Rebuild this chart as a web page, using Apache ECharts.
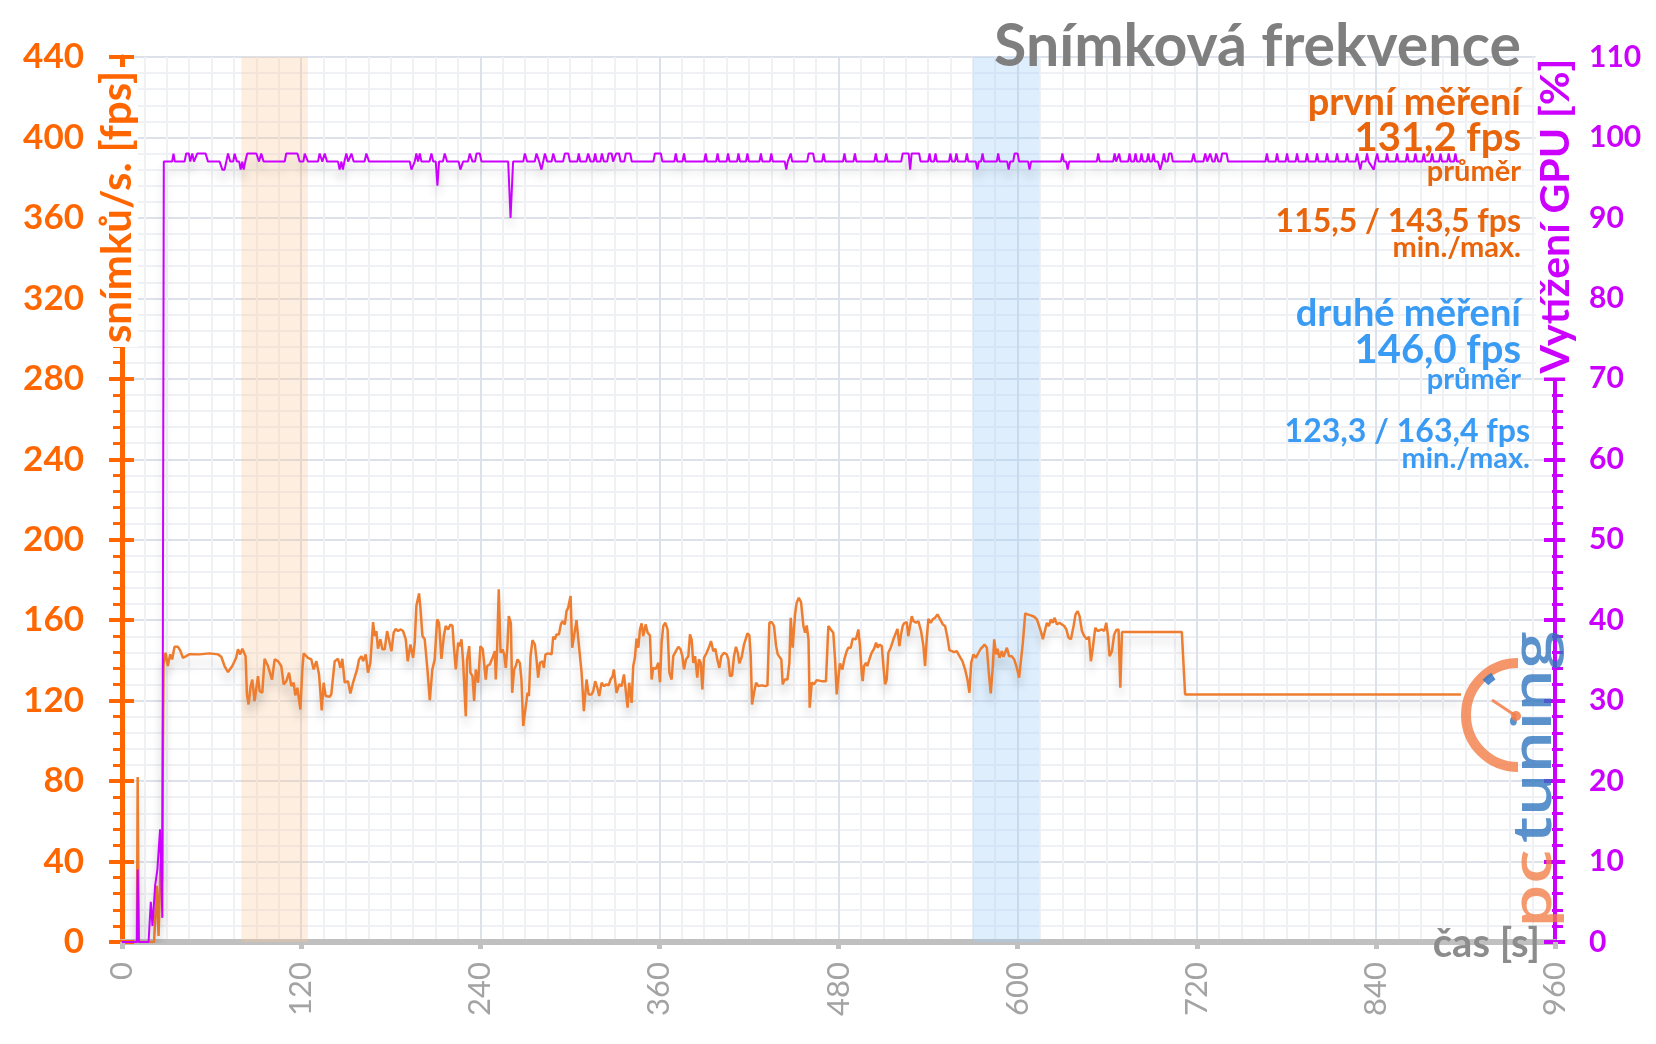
<!DOCTYPE html>
<html>
<head>
<meta charset="utf-8">
<title>Snímková frekvence</title>
<script src="https://cdn.jsdelivr.net/npm/echarts@6/dist/echarts.min.js"></script>
<style>
  html, body { margin: 0; padding: 0; background: #fff; }
  #chart { width: 1656px; height: 1044px; }
</style>
</head>
<body>
<div id="chart"></div>
<script>
// osa x: čas [s]
const timeTicks = [0, 120, 240, 360, 480, 600, 720, 840, 960];

// snímky za sekundu [čas s, fps]
const fpsSamples = [
  [0,0],[10,0],[10.5,82],[11.2,0],[21.5,0],[23.3,28],[24.5,3],[25.8,39],[26.8,30],[27.8,138],
  [29.2,143.8],[30.7,137.2],[32.3,143],[33.6,140.5],[35.2,146.8],[37.4,146.8],[39,145],[40.8,141.3],[43,142.1],[45.3,143.1],
  [52,143],[58.7,143.5],[64.3,143],[66.5,141.8],[68.7,137.2],[71,134.2],[73.9,137.2],[76.5,141.3],[77.7,145.5],[79.2,143],
  [80.6,145.8],[82.8,142.1],[83.7,123.1],[84.8,118.1],[86.2,127.2],[87.3,130.5],[88.8,119.8],[91.1,132.2],[92.2,124.7],[94,123.9],
  [95.5,140.8],[97.8,137.2],[100.5,130.5],[102.3,140.5],[104.5,139.6],[106.7,137.2],[108.3,128.1],[110.1,129.7],[111.9,133.9],[113.4,127.2],
  [115,128.9],[116.1,122.6],[117.5,126.4],[119.5,115.6],[120.8,135.5],[121.7,143.5],[124.6,141.3],[126.8,140.5],[128.4,135.5],[130.2,139.6],
  [132,133],[133.8,115.1],[135.1,128.9],[136.4,122.3],[139.1,121.9],[140.2,123.1],[142.5,139.6],[144.7,140.8],[146.3,136.3],[147.6,140.8],
  [149.2,128.9],[151.4,129.7],[153,123.6],[154.8,128.9],[157.5,135.5],[158.8,140.5],[160.4,142.1],[161.5,139.6],[163.3,143],[164.8,133.9],
  [166.4,138.8],[168.2,159],[169.3,152.1],[170.4,154.6],[171.5,145.8],[173.1,150.5],[174.4,145.5],[176,145.5],[177.6,154.6],[178.9,155.4],
  [180.5,144.6],[182,153.8],[183.4,155.7],[184.9,154.6],[186.5,155.4],[188.3,154.6],[190.1,150.5],[191.4,139.6],[193.2,147.9],[195,141.3],
  [196.1,148.8],[197.2,167],[199,173.3],[199.9,166.2],[201.3,152.1],[202.8,150.5],[204.6,135.5],[206.2,120.3],[207.9,135.5],[209.5,140.5],
  [211.1,160.4],[212.4,158.7],[214,140.8],[215.6,152.1],[216.9,157.1],[218.5,155.4],[220,157.9],[221.4,157.1],[222.3,147.1],[223.6,135.5],
  [225.2,148.8],[226.3,147.1],[227.4,150.5],[228.5,139.6],[230.3,112.3],[231.2,140.5],[232.6,147.1],[233.4,133.9],[234.8,132.2],[235.9,119.8],
  [237,135.5],[238.6,128.9],[240.1,147.1],[241.7,145.5],[243.1,134.7],[243.7,130.5],[244.6,137.2],[246.4,138],[248.6,142.1],[249.8,144.6],
  [250.4,130.5],[251.3,145.5],[252.4,175.3],[253.6,143.8],[254.9,145.5],[256,143],[257.1,136.3],[258.2,147.1],[259.1,162],[260.5,158.7],
  [261.4,123.9],[262.7,135.5],[263.8,137.2],[265,140.5],[266.5,138.8],[267.6,130.5],[268.8,107.4],[270.5,117.3],[271.7,123.9],[272.6,122.3],
  [273.7,142.1],[275,150.1],[276.6,147.9],[277.7,140.5],[278.8,131.4],[280,138.8],[281.7,139.6],[282.6,136.3],[283.7,143],[285.5,143.5],
  [287.8,143],[288.9,151.8],[290,150.5],[291.1,152.9],[292.7,152.9],[294,157.9],[295.1,159.5],[296.7,157.9],[297.8,164.5],[298.9,166.2],
  [300.5,172],[301.6,146.3],[302.9,147.1],[304.5,160],[305.9,148.8],[307.9,133.9],[309.4,114.8],[311.2,130.5],[312.6,123.1],[314.6,123.1],
  [315.7,124.7],[317,129.7],[318.4,126.4],[319.7,122.3],[321.3,128.9],[322.8,127.2],[324.6,128.1],[326,127.6],[327.3,130.5],[328.7,132.2],
  [329.5,135.5],[331.3,123.9],[333.1,128.1],[334.7,127.2],[336.3,133],[337.6,132.2],[338.7,116.5],[339.8,128.9],[341.4,118.9],[342.5,137.2],
  [343.6,141.3],[344.7,150.8],[345.9,146.3],[347,155.4],[348.1,158.4],[349.2,152.1],[350.8,157.9],[352.1,153.8],[353.7,152.4],[354.8,130.5],
  [355.9,136.3],[357.7,135.8],[359.3,138.8],[360.4,129.2],[361.5,148.8],[362.6,157.1],[364,158.7],[365.5,155.4],[366.7,133.9],[368.2,130.5],
  [369.3,142.1],[371.1,144.6],[372.7,146.8],[374.2,145.5],[375.4,142.1],[376.5,135.5],[377.8,140.5],[379.4,142.1],[380.5,152.9],[381.6,150.5],
  [382.7,138.8],[383.9,142.1],[385.4,131.4],[386.5,140.5],[387.7,138.8],[388.8,125.6],[389.9,141.3],[391.7,143.8],[393.5,147.1],[394.6,149.6],
  [396.1,144.6],[397.5,145.8],[398.8,140.5],[400.2,136.3],[401.5,142.1],[403.3,143.8],[405.1,143],[406.2,140.5],[407.3,132.2],[408.7,132.5],
  [410,142.1],[411.3,146.8],[412.5,143.8],[413.6,138.5],[415.2,141.8],[416.7,147.9],[417.8,148.8],[419,153.4],[420.3,152.4],[421.2,142.1],
  [422.1,118.1],[423.4,123.9],[424.8,128.9],[426.3,127.2],[428.6,127.6],[430.8,127.2],[432.4,127.6],[433.7,158.7],[435.3,159.1],[436.8,157.1],
  [438.2,147.1],[439.3,143],[440.4,143.8],[441.7,140.5],[442.6,128.1],[444,130.5],[445.8,130.5],[447.1,138.8],[448,161.2],[449.3,146.3],
  [450.9,162.9],[452,168.7],[453.4,171.1],[454.9,169],[456.5,157.1],[457.6,153.8],[458.7,157.4],[459.9,150.5],[460.7,116.5],[462.1,129],
  [463.6,128.1],[465.4,130.2],[468.7,129.7],[471.6,129.7],[473.2,157.1],[474.8,155.4],[476.5,153.8],[477.7,140.5],[478.8,123.1],[479.9,131.4],
  [481,138.5],[482.6,135.5],[483.9,140.5],[485.5,144.6],[486.6,146.3],[488.2,146.3],[489.5,150.8],[490.6,151.3],[491.7,150.5],[493.3,155.4],
  [494.4,147.1],[495.5,133.9],[496.2,129.7],[497.1,137.2],[498.4,138.8],[499.3,137.2],[500.7,140.5],[502.2,143.8],[503.8,145.8],[505.2,148.8],
  [506.3,146.3],[507.4,147.9],[509,147.1],[510.1,137.2],[511.2,128.1],[512.3,130.5],[513.4,143.8],[515,146.3],[516.8,150.5],[517.9,151.3],
  [519.5,155.7],[520.8,147.1],[521.9,152.9],[523,157.1],[523.9,158.4],[525.7,159.1],[526.8,152.1],[527.9,151.3],[529.1,162],[530.2,159.5],
  [532,158.7],[533.5,159.5],[535.3,154.6],[536.9,147.1],[538,137.2],[539.1,150.5],[540.2,160.7],[541.8,158.7],[543.1,160.4],[544.7,161.2],
  [546.3,162.9],[548.1,160.4],[549.9,157.9],[551.4,157.1],[553,151.3],[554.3,145.1],[555.9,144.6],[557.5,144.1],[559.2,144.6],[560.4,143],
  [561.5,143.8],[563,139.6],[564.8,135.5],[566.4,130.5],[567.7,123.9],[568.9,138.8],[570.4,143],[572,141.3],[573.8,143.8],[575.3,145.8],
  [576.7,146.8],[577.8,147.9],[579.4,146.3],[580.5,135.5],[582,123.6],[583.4,137.2],[584.3,150.5],[585.6,143],[586.5,145.8],[587.9,141.3],
  [589.4,144.6],[590.5,141.8],[591.6,143.8],[592.8,146.3],[594.3,142.1],[596.1,142.1],[597.7,140.5],[599.5,136.3],[601,131.4],[602.1,132.2],
  [603.5,148.8],[605.1,163.4],[606.6,162.9],[608.9,162.4],[611.1,161.7],[612.9,160.4],[614.4,157.1],[615.8,153.8],[616.9,150.5],[618.5,155.4],
  [619.6,158.7],[620.9,157.1],[622.3,160.4],[623.6,158.7],[624.7,161.2],[626.3,157.9],[628.1,158.7],[629.6,157.9],[631.2,157.1],[632.6,155.4],
  [634.1,151.3],[635.7,150.5],[637.5,157.1],[638.8,162.9],[640.2,164.5],[641.5,162],[643.1,154.6],[644.6,152.1],[646.4,150.5],[647.8,151.8],
  [649.1,139.6],[650.4,146.3],[652,156.2],[653.6,154.6],[654.9,153.8],[656.5,155.4],[658,154.6],[659.4,158.7],[660.5,152.1],[661.6,142.1],
  [663.2,144.6],[664.7,152.9],[666.1,155.1],[667.6,155.4],[668.8,126.4],[669.9,154.1],[710,154.1],[712.2,123.1],
  [722.5,123.1],[723.5,122.7],[724.5,123.1],[733.7,123.1],[734.7,122.7],[735.7,123.1],[777.3,123.1],[778.3,122.7],[779.3,123.1],
  [783,123.1],[783.9,122.7],[784.8,123.1],[794,123.1],[795,122.7],[796,123.1],[797.5,123.1],[798.4,122.7],[799.3,123.1],
  [805.3,123.1],[806.2,122.7],[807.1,123.1],[825.4,123.1],[826.3,122.7],[827.2,123.1],[828.8,123.1],[829.7,122.7],[830.6,123.1],
  [836.6,123.1],[837.5,122.7],[838.4,123.1],[848.9,123.1],[849.8,122.7],[850.7,123.1],[853.4,123.1],[854.3,122.7],[855.2,123.1],
  [857.8,123.1],[858.7,122.7],[859.6,123.1],[863.4,123.1],[864.3,122.7],[865.2,123.1],[867.9,123.1],[868.8,122.7],[869.7,123.1],
  [872.4,123.1],[873.3,122.7],[874.2,123.1],[885.8,123.1],[886.7,122.7],[887.6,123.1],[897,123.1]
];

// vytížení GPU [čas s, %]
const gpuSamples = [
  [0,0],[10,0],[10.5,9],[11.3,0],[17.8,0],[19.3,5],[20.4,2],[22.2,7],[23.7,9],[25.5,14],[27,3],[28,97],
  [33.6,97],[34.5,98],[35.4,97],[41.9,97],[43,98],[44.8,98],[45.7,97],[47.1,98],[48.2,97],
  [49.3,97],[50.4,98],[56,98],[57.6,97],[65.4,97],[67.2,96],[68.7,96],[69.9,97],[71,98],[72.5,97],
  [74.5,97],[75.4,98],[77,97],[78.5,97],[79.5,96],[80.6,97],[81.5,96],[82.6,97],[83.9,98],[90,98],[91.8,97],
  [93.3,98],[94.9,97],[109,97],[110,98],[117.5,98],[119,97],[121.5,97],[122.4,98],[124.6,97],
  [131.3,97],[132.4,98],[134.2,97],[135.8,98],[137.4,97],
  [144.7,97],[145.8,96],[147,97],[148,96],[149,97],[150.3,98],[151.5,97],[153.7,98],[155.2,97],
  [162.5,97],[163.7,98],[165.5,97],[192.8,97],[193.9,96],[195,96],[196.1,97],
  [197.2,98],[198.3,97],[199.5,98],[200.6,97],[206,97],[207.3,98],[208.5,97],
  [210.2,97],[211.3,94],[212.4,97],[215,97],[216.2,98],[217.8,97],
  [225.5,97],[226.7,96],[227.5,96],[228.5,97],[231.8,97],[233,98],[234.8,97],
  [236.5,97],[237.5,98],[239.7,98],[240.8,97],[258.7,97],[260.3,90],[262,97],
  [268.8,97],[269.9,98],[271.4,97],[276.5,97],[277.7,98],[279.5,97],[281,96],[282.2,97],[283.3,98],[284.9,97],
  [287.8,97],[288.9,98],[290.4,97],[295.5,97],[296.7,98],[299,98],[300.1,97],
  [305,97],[306,98],[307,97],[311,97],[312.3,98],[313.9,97],
  [316,97],[317,98],[318,97],[320.5,97],[321.5,98],[322.8,97],
  [325,97],[326,98],[328,98],[329,97],[331,98],[333,98],[334,97],[336.5,97],[337.5,98],[340.5,98],[341.5,97],
  [356,97],[357,98],[361,98],[362,97],[370,97],[371,98],[372,97],[375.5,97],[376.5,98],[377.5,97],
  [390,97],[391,98],[392,97],[398,97],[399,98],[400,97],[405,97],[406,98],[407,97],
  [412,97],[413,98],[414,97],[418,97],[419,98],[420,97],
  [427,97],[428,98],[429,97],[434,97],[435,98],[436,97],
  [444,97],[445,96],[446,97],[448,98],[449,97],[459,97],[460,98],[463,98],[464,97],
  [469,97],[470,98],[471,97],[483,97],[484,98],[485,97],
  [490,97],[491,98],[492,97],[504,97],[505,98],[506,97],[511,97],[512,98],[513,97],
  [522,97],[523,98],[527,98],[528,96],[529,98],[534,98],[535,97],
  [540,97],[541,98],[542,97],[544,97],[545,98],[546,97],
  [554,97],[555,98],[556,97],[558,97],[559,98],[560,97],
  [565,97],[566,98],[567,97],[572,97],[573,96],[574,97],[575.5,97],[576.5,98],[577.5,97],
  [586,97],[587,98],[588,97],[593,97],[594,96],[595,97],[597,97],[598,98],[600,98],[601,97],
  [607,97],[608,96],[609,97],[629,97],[630,98],[631,97],[632.5,97],[633.5,96],[634.5,97],
  [653,97],[654,98],[655,97],[664,97],[665,98],[666,97],[667,97],[668,98],[669,97],[674,97],[675,98],[676,97],
  [678,97],[679,98],[680,97],[682,97],[683,98],[684,97],[686.5,97],[687.5,98],[688.5,97],
  [690,97],[691,98],[692,97],[694,97],[695.5,96],[697,97],[698,98],[699,97],[700.5,97],[701.5,98],[703,98],[704,97],
  [716.7,97],[717.9,98],[719,97],[724.5,97],[725.7,98],[727,97],[728,97],[729,98],[730.5,97],
  [732,97],[733,98],[734.5,97],[736,97],[737,98],[740,98],[741,97],
  [766,97],[767,98],[768,97],[772.8,97],[773.8,98],[774.8,97],[779.5,97],[780.5,98],[781.5,97],
  [786.2,97],[787.2,98],[788.2,97],[792.9,97],[793.9,98],[794.9,97],[799.6,97],[800.6,98],[801.6,97],
  [806.3,97],[807.3,98],[808.3,97],[813,97],[814,98],[815,97],[819.7,97],[820.7,98],[821.7,97],
  [826.4,97],[827.4,98],[828.4,97],[829.6,96],[830.6,97],[833.1,97],[834.1,98],[835.1,97],
  [838.6,96],[839.6,97],[840.9,98],[841.9,97],[846.5,97],[847.5,98],[848.5,97],
  [853.2,97],[854.2,98],[855.2,97],[860,97],[861,98],[862,97],[865.5,97],[866.5,98],[867.5,97],
  [871.1,97],[872.1,98],[873.1,97],[876.7,97],[877.7,98],[878.7,97],[882.3,97],[883.3,98],[884.3,97],
  [887.8,97],[888.8,98],[889.8,97],[892.3,97],[893.3,98],[894.3,97],[897,97]
];

// zvýrazněné úseky měření [od, do] v sekundách
const firstRun = [80, 124.5];
const secondRun = [570, 614.5];

// souhrnné hodnoty
const firstStats = { avg: "131,2 fps", minMax: "115,5 / 143,5 fps" };
const secondStats = { avg: "146,0 fps", minMax: "123,3 / 163,4 fps" };

const ORANGE = "#ff6600";
const MAGENTA = "#cc00ff";
const TXT_ORANGE = "#e8650c";
const TXT_BLUE = "#3a9bf4";
const FONT = "Lato";

let chart = echarts.init(document.getElementById("chart"));

const lineShadow = {
  shadowColor: "rgba(0,0,0,0.18)",
  shadowBlur: 10,
  shadowOffsetY: 9,
};

function note(text, right, y, size, color) {
  return {
    type: "text",
    z: 60,
    x: right,
    y: y,
    style: {
      text: text,
      align: "right",
      verticalAlign: "middle",
      fill: color,
      font: "bold " + size + "px " + FONT,
    },
  };
}

let option = {
  animation: false,
  backgroundColor: "#fff",
  grid: {
    left: 122,
    right: 101,
    top: 57,
    bottom: 102,
    outerBoundsMode: "none",
  },
  xAxis: {
    type: "value",
    min: timeTicks[0],
    max: timeTicks[timeTicks.length - 1],
    interval: 120,
    axisLine: { show: true, lineStyle: { color: "#c0c0c0", width: 6 } },
    axisTick: { show: true, length: 7, lineStyle: { color: "#c0c0c0", width: 5 } },
    axisLabel: {
      rotate: 90,
      color: "#a3a3a3",
      fontFamily: FONT,
      fontSize: 31,
      margin: 20,
      showMinLabel: true,
      showMaxLabel: true,
    },
    splitLine: { show: true, lineStyle: { color: "#dde1e9", width: 2 } },
    minorTick: { show: false, splitNumber: 8 },
    minorSplitLine: { show: true, lineStyle: { color: "#eff1f5", width: 2 } },
  },
  yAxis: [
    {
      type: "value",
      position: "left",
      min: 0,
      max: 440,
      interval: 40,
      axisLine: { show: true, lineStyle: { color: ORANGE, width: 5 } },
      axisTick: { show: true, length: 13, lineStyle: { color: ORANGE, width: 4 } },
      minorTick: { show: true, splitNumber: 5, length: 9, lineStyle: { color: ORANGE, width: 3 } },
      axisLabel: {
        color: ORANGE,
        fontFamily: FONT,
        fontWeight: "bold",
        fontSize: 35,
        margin: 38,
      },
      splitLine: { show: true, lineStyle: { color: "#dde1e9", width: 2 } },
      minorSplitLine: { show: true, lineStyle: { color: "#eff1f5", width: 2 } },
    },
    {
      type: "value",
      position: "right",
      min: 0,
      max: 110,
      interval: 10,
      axisLine: { show: true, lineStyle: { color: MAGENTA, width: 4 } },
      axisTick: { show: true, length: 10, lineStyle: { color: MAGENTA, width: 4 } },
      minorTick: { show: true, splitNumber: 5, length: 8, lineStyle: { color: MAGENTA, width: 3 } },
      axisLabel: {
        color: MAGENTA,
        fontFamily: FONT,
        fontWeight: "bold",
        fontSize: 30,
        margin: 34,
      },
      splitLine: { show: false },
    },
    // vnitřní část značek (značky přes osu)
    {
      type: "value",
      position: "left",
      min: 0,
      max: 440,
      interval: 40,
      axisLine: { show: false },
      axisTick: { show: true, inside: true, length: 12, lineStyle: { color: ORANGE, width: 4 } },
      axisLabel: { show: false },
      splitLine: { show: false },
    },
    {
      type: "value",
      position: "right",
      min: 0,
      max: 110,
      interval: 10,
      axisLine: { show: false },
      axisTick: { show: true, inside: true, length: 11, lineStyle: { color: MAGENTA, width: 4 } },
      minorTick: { show: true, splitNumber: 5, length: 3, lineStyle: { color: MAGENTA, width: 3 } },
      axisLabel: { show: false },
      splitLine: { show: false },
    },
  ],
  series: [
    {
      name: "fps",
      type: "line",
      yAxisIndex: 0,
      data: fpsSamples,
      symbol: "none",
      lineStyle: Object.assign({ color: "#ee7d2f", width: 2.5 }, lineShadow),
      markArea: {
        silent: true,
        data: [
          [
            { xAxis: firstRun[0], itemStyle: { color: "rgba(248,200,150,0.3)" } },
            { xAxis: firstRun[1] },
          ],
          [
            { xAxis: secondRun[0], itemStyle: { color: "rgba(160,205,250,0.35)" } },
            { xAxis: secondRun[1] },
          ],
        ],
      },
    },
    {
      name: "GPU",
      type: "line",
      yAxisIndex: 1,
      data: gpuSamples,
      symbol: "none",
      lineStyle: Object.assign({ color: MAGENTA, width: 2 }, lineShadow),
    },
  ],
  graphic: [
    // názvy os
    {
      type: "text",
      z: 50,
      x: 117,
      y: 207,
      rotation: Math.PI / 2,
      style: {
        text: "snímků/s. [fps]",
        align: "center",
        verticalAlign: "middle",
        fill: ORANGE,
        font: "bold 42px " + FONT,
        backgroundColor: "#fff",
        padding: [0, 4],
      },
    },
    {
      type: "text",
      z: 50,
      x: 1556,
      y: 216,
      rotation: Math.PI / 2,
      style: {
        text: "Vytížení GPU [%]",
        align: "center",
        verticalAlign: "middle",
        fill: MAGENTA,
        font: "bold 41px " + FONT,
        backgroundColor: "#fff",
        padding: [0, 4],
      },
    },
    {
      type: "text",
      z: 50,
      x: 1540,
      y: 944,
      style: {
        text: "čas [s]",
        align: "right",
        verticalAlign: "middle",
        fill: "#8c8c8c",
        font: "bold 40px " + FONT,
      },
    },
    // titulek
    note("Snímková frekvence", 1521, 47, 59, "#7f7f7f"),
    // první měření
    note("první měření", 1521, 103, 38, TXT_ORANGE),
    note(firstStats.avg, 1521, 138, 40, TXT_ORANGE),
    note("průměr", 1521, 172, 29, TXT_ORANGE),
    note(firstStats.minMax, 1521, 222, 32, TXT_ORANGE),
    note("min./max.", 1521, 248, 29, TXT_ORANGE),
    // druhé měření
    note("druhé měření", 1521, 314, 38, TXT_BLUE),
    note(secondStats.avg, 1521, 350, 40, TXT_BLUE),
    note("průměr", 1521, 380, 29, TXT_BLUE),
    note(secondStats.minMax, 1530, 432, 32, TXT_BLUE),
    note("min./max.", 1530, 459, 29, TXT_BLUE),
    // logo pctuning
    {
      type: "arc",
      z: 70,
      shape: { cx: 1518, cy: 715, r: 52, startAngle: Math.PI / 2, endAngle: Math.PI * 1.5, clockwise: true },
      style: { stroke: "rgba(242,125,70,0.8)", lineWidth: 10, fill: null },
    },
    {
      type: "arc",
      z: 71,
      shape: { cx: 1518, cy: 715, r: 46, startAngle: Math.PI * 1.25, endAngle: Math.PI * 1.32, clockwise: true },
      style: { stroke: "rgba(50,120,200,0.85)", lineWidth: 8, fill: null },
    },
    {
      type: "line",
      z: 71,
      shape: { x1: 1492, y1: 700, x2: 1516, y2: 716 },
      style: { stroke: "rgba(242,125,70,0.85)", lineWidth: 3 },
    },
    {
      type: "circle",
      z: 71,
      shape: { cx: 1516, cy: 716, r: 5 },
      style: { fill: "rgba(242,125,70,0.85)" },
    },
    {
      type: "text",
      z: 70,
      x: 1536,
      y: 928,
      rotation: Math.PI / 2,
      scaleX: 1.3,
      style: {
        text: "pc",
        align: "left",
        verticalAlign: "middle",
        fill: "rgba(242,125,70,0.78)",
        font: "600 54px 'Open Sans'",
      },
    },
    {
      type: "text",
      z: 70,
      x: 1536,
      y: 843,
      rotation: Math.PI / 2,
      scaleX: 1.25,
      style: {
        text: "tuning",
        align: "left",
        verticalAlign: "middle",
        fill: "rgba(45,115,190,0.78)",
        font: "600 54px 'Open Sans'",
      },
    },
  ],
};

chart.setOption(option);
</script>
</body>
</html>
